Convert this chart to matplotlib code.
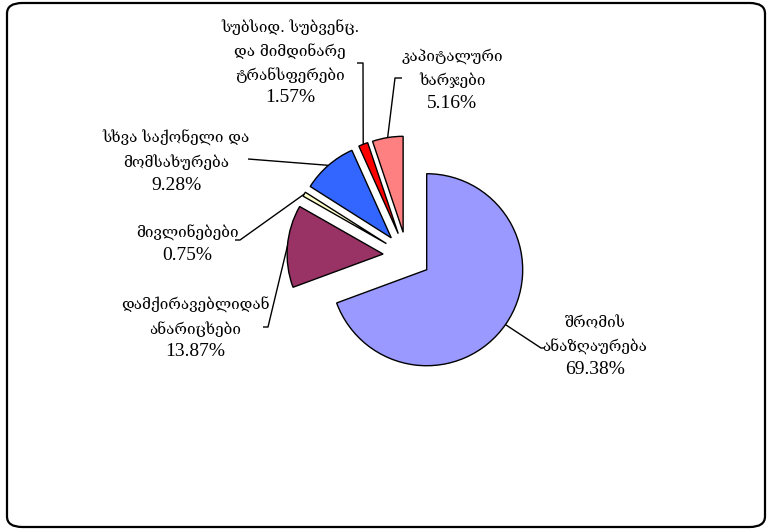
import matplotlib
matplotlib.use("Agg")
import matplotlib.pyplot as plt
from matplotlib.patches import FancyBboxPatch
import numpy as np

# ---- data ----
categories = [["შრომის", "ანაზღაურება"],
              ["დამქირავებლიდან", "ანარიცხები"],
              ["მივლინებები"],
              ["სხვა საქონელი და", "მომსახურება"],
              ["სუბსიდ. სუბვენც.", "და მიმდინარე", "ტრანსფერები"],
              ["კაპიტალური", "ხარჯები"]]
values = [69.38, 13.87, 0.75, 9.28, 1.57, 5.16]
pct_labels = ["69.38%", "13.87%", "0.75%", "9.28%", "1.57%", "5.16%"]
colors = ["#9999FF", "#993366", "#FFFFCC", "#3366FF", "#FF0000", "#FF8080"]

W, H = 769, 529
R = 96
fig = plt.figure(figsize=(W / 100, H / 100), dpi=100)
ax = fig.add_axes([0, 0, 1, 1])

wedges, _ = ax.pie(values, colors=colors, startangle=90, counterclock=False,
                   explode=[0.25 * R] * len(values), center=(407, H - 256), radius=R,
                   wedgeprops=dict(edgecolor="black", linewidth=1.0))
ax.set_xlim(0, W)
ax.set_ylim(0, H)
ax.set_aspect("equal")
ax.axis("off")

# label layout (pixel positions, image coords from top): center x, first-line y
text_pos = [(595, 323), (195, 305), (187, 233), (176, 138), (290, 27), (452, 56)]
elbows = [[(541, 348), (544, 348)],
          [(268, 327), (263, 327)],
          [(240, 240), (235, 240)],
          [(248, 159)],
          [(363, 63), (357, 63)],
          [(395, 78), (402, 78)]]
LS = 24

for w, cat, pct, (tx, ty), el in zip(wedges, categories, pct_labels, text_pos, elbows):
    th = np.deg2rad((w.theta1 + w.theta2) / 2)
    cx, cy = w.center
    x0 = cx + w.r * np.cos(th)
    y0 = cy + w.r * np.sin(th)
    xs = [x0] + [p[0] for p in el]
    ys = [y0] + [H - p[1] for p in el]
    ax.plot(xs, ys, color="black", lw=1.0, solid_capstyle="butt", zorder=1)
    for i, line in enumerate(cat):
        ax.text(tx, H - (ty + i * LS), line, ha="center", va="center",
                fontsize=11, family="DejaVu Serif")
    ax.text(tx, H - (ty + len(cat) * LS) + 1, pct, ha="center", va="center",
            fontsize=14, family="Liberation Serif")

box = FancyBboxPatch((7 / W, 1 - 527 / H), (765 - 7) / W, (527 - 3) / H,
                     boxstyle="round,pad=0,rounding_size=0.02",
                     transform=fig.transFigure, facecolor="none",
                     edgecolor="black", linewidth=1.6)
fig.patches.append(box)

fig.savefig("out.png", dpi=100)
